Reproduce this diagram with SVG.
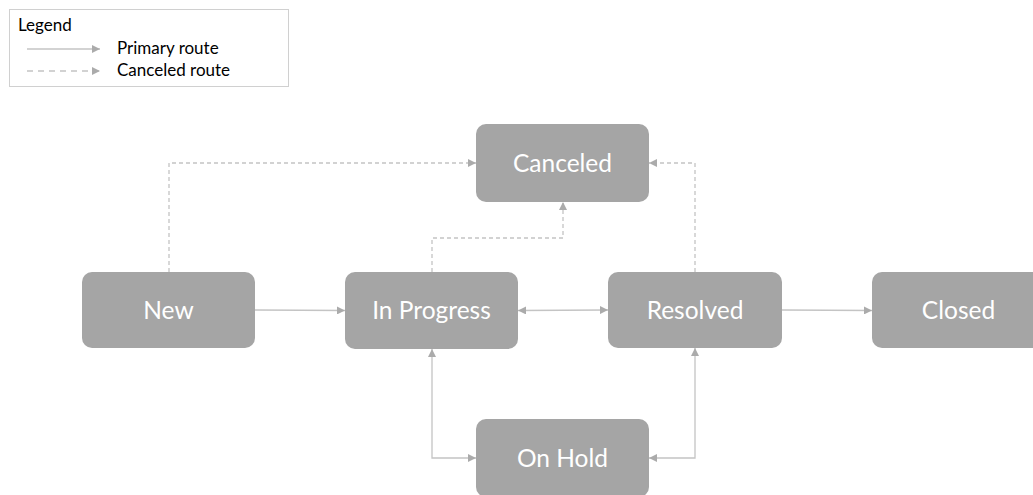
<svg xmlns="http://www.w3.org/2000/svg" width="1033" height="495" viewBox="0 0 1033 495">
  <defs>
    <marker id="arrow" viewBox="0 0 10 10" refX="10" refY="5" markerWidth="8" markerHeight="8" markerUnits="userSpaceOnUse" orient="auto-start-reverse">
      <path d="M0,0 L10,5 L0,10 Z" fill="#ababab"/>
    </marker>
  </defs>
  <style>
    .node rect { fill: #a5a5a5; }
    .node text { fill: #ffffff; font-family: Lato, "Open Sans", sans-serif; font-size: 24.5px; text-anchor: middle; }
    .edge { fill: none; stroke: #c4c4c4; stroke-width: 1.3; }
    .dash { stroke-dasharray: 4 3; }
    .legend-dash { stroke-dasharray: 6 5; }
    .legend-text { fill: #000000; font-family: Lato, "Open Sans", sans-serif; font-size: 17px; }
  </style>
  <rect width="1033" height="495" fill="#ffffff"/>

  <!-- legend -->
  <g id="legend">
    <rect x="9.5" y="9.5" width="279" height="77" fill="#ffffff" stroke="#d0d0d0" stroke-width="1"/>
    <text class="legend-text" x="18" y="31">Legend</text>
    <line class="edge" x1="27" y1="49" x2="100" y2="49" marker-end="url(#arrow)"/>
    <text class="legend-text" x="117" y="54">Primary route</text>
    <line class="edge legend-dash" x1="27" y1="71" x2="100" y2="71" marker-end="url(#arrow)"/>
    <text class="legend-text" x="117" y="76">Canceled route</text>
  </g>

  <!-- connectors -->
  <g id="connectors">
    <line class="edge" x1="255" y1="310" x2="345" y2="310.5" marker-end="url(#arrow)"/>
    <line class="edge" x1="518" y1="310.5" x2="608" y2="310" marker-start="url(#arrow)" marker-end="url(#arrow)"/>
    <line class="edge" x1="782" y1="310" x2="872" y2="310.5" marker-end="url(#arrow)"/>
    <polyline class="edge" points="432,349 432,458 476,458" marker-start="url(#arrow)" marker-end="url(#arrow)"/>
    <polyline class="edge" points="695,348 695,458 649,458" marker-start="url(#arrow)" marker-end="url(#arrow)"/>
    <polyline class="edge dash" points="169,272 169,163 476,163" marker-end="url(#arrow)"/>
    <polyline class="edge dash" points="432,272 432,238 563,238 563,202" marker-end="url(#arrow)"/>
    <polyline class="edge dash" points="695,272 695,163 649,163" marker-end="url(#arrow)"/>
  </g>

  <!-- nodes -->
  <g id="node-canceled" class="node">
    <rect x="476" y="124" width="173" height="78" rx="10"/>
    <text x="562.5" y="172">Canceled</text>
  </g>
  <g id="node-new" class="node">
    <rect x="82" y="272" width="173" height="76" rx="10"/>
    <text x="168.5" y="319">New</text>
  </g>
  <g id="node-in-progress" class="node">
    <rect x="345" y="272" width="173" height="77" rx="10"/>
    <text x="431.5" y="319">In Progress</text>
  </g>
  <g id="node-resolved" class="node">
    <rect x="608" y="272" width="174" height="76" rx="10"/>
    <text x="695" y="319">Resolved</text>
  </g>
  <g id="node-closed" class="node">
    <rect x="872" y="272" width="173" height="76" rx="10"/>
    <text x="958.5" y="319">Closed</text>
  </g>
  <g id="node-on-hold" class="node">
    <rect x="476" y="419" width="173" height="78" rx="10"/>
    <text x="562.5" y="467">On Hold</text>
  </g>
</svg>
